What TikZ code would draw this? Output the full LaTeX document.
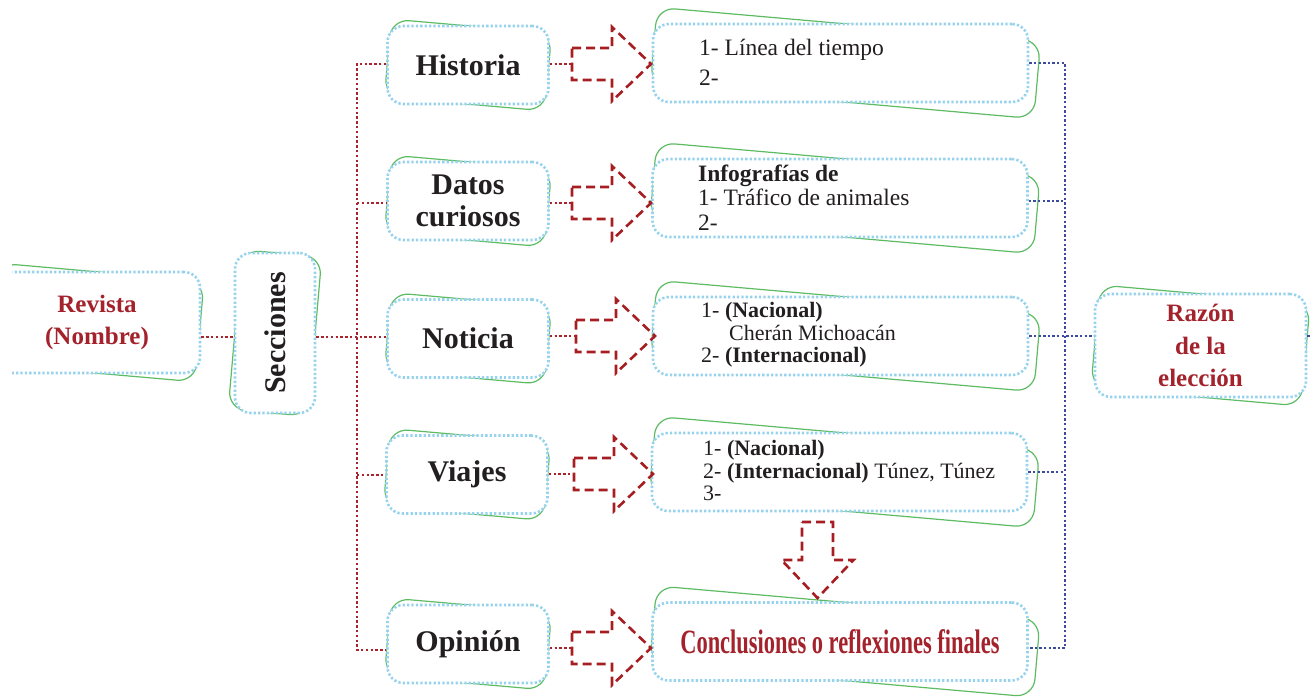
\documentclass[tikz,border=0pt]{standalone}
\usepackage{fontspec}
\setmainfont{Liberation Serif}
\newfontfamily\condfont[FakeStretch=0.66]{Liberation Serif}
\usetikzlibrary{calc}
\definecolor{boxblue}{HTML}{98D3EE}
\definecolor{grn}{HTML}{5DBB63}
\definecolor{ink}{HTML}{231F20}
\definecolor{redtxt}{HTML}{A3222B}
\definecolor{rdot}{HTML}{A8232B}
\definecolor{arrred}{HTML}{A61E22}
\definecolor{navy}{HTML}{3C4BA0}
\tikzset{
 dotbox/.style={draw=boxblue, line width=2.6pt, dash pattern=on 2.3pt off 2.1pt, fill=white, rounded corners=16pt, inner sep=0pt},
 sectxt/.style={font=\fontsize{30}{32}\selectfont\bfseries, text=ink, align=center},
 redtitle/.style={font=\fontsize{25}{32}\selectfont\bfseries, text=redtxt, align=center},
 greenline/.style={draw=grn, line width=1.2pt, rounded corners=18pt},
 reddot/.style={draw=rdot, line width=2.8pt, dash pattern=on 2.4pt off 2.4pt},
 bluedot/.style={draw=navy, line width=2.6pt, dash pattern=on 2.4pt off 2.2pt},
 arrowline/.style={draw=arrred, line width=2.6pt, dash pattern=on 9pt off 5pt, line join=miter},
 listA/.style={anchor=base west, inner sep=0pt, text=ink, font=\fontsize{23.5}{24}\selectfont},
 listB/.style={anchor=base west, inner sep=0pt, text=ink, font=\fontsize{22}{24}\selectfont},
}
% name, x, y, w, h, green width, green dx, style, text
\newcommand\gbox[9]{%
 \begin{scope}[shift={(#2+#7,#3)}, rotate=-5]
  \draw[greenline] (-#6/2,-#5/2) rectangle (#6/2,#5/2);
 \end{scope}
 \node[dotbox,#8, minimum width=#4pt, minimum height=#5pt] (#1) at (#2,#3) {#9};}
\newcommand\rarr[3]{%
 \coordinate (#1) at (#2,#3);
 \draw[arrowline] (#2,#3+16) -- (#2+40,#3+16) -- (#2+40,#3+37) -- (#2+79,#3) -- (#2+40,#3-37) -- (#2+40,#3-16) -- (#2,#3-16) -- cycle;}
\begin{document}
\begin{tikzpicture}[x=1pt,y=1pt]
\useasboundingbox (0,0) rectangle (1311,-697);
% Revista
\begin{scope}
 \clip (12,0) rectangle (1311,-697);
 \gbox{rev}{97}{-322.5}{206}{101}{206}{0}{redtitle}{Revista\\(Nombre)}
\end{scope}
% Secciones
\gbox{sec}{275}{-333}{80}{160}{80}{0}{sectxt}{\rotatebox{90}{Secciones}}
% section boxes
\gbox{s1}{468}{-65}{161}{78}{161}{0}{sectxt}{Historia}
\gbox{s2}{468}{-201}{161}{78}{161}{0}{sectxt}{Datos\\curiosos}
\gbox{s3}{468}{-338.5}{161}{78}{161}{0}{sectxt}{Noticia}
\gbox{s4}{467}{-474.5}{161}{78}{161}{0}{sectxt}{Viajes}
\gbox{s5}{468}{-644}{161}{78}{161}{0}{sectxt}{Opinión}
% list boxes
\gbox{l1}{840.5}{-63}{375}{78}{385}{5}{}{}
\gbox{l2}{840}{-198}{375}{78}{385}{5}{}{}
\gbox{l3}{840.5}{-336}{375}{78}{385}{5}{}{}
\gbox{l4}{839.5}{-472}{375}{78}{385}{5}{}{}
\gbox{l5}{840}{-641.5}{375}{78}{385}{5}{font=\condfont\fontsize{34}{36}\selectfont\bfseries, text=redtxt}{Conclusiones o reflexiones finales}
% Razon
\gbox{raz}{1200.5}{-345.5}{211}{103}{211}{0}{redtitle, font=\fontsize{25}{32.5}\selectfont\bfseries}{Razón\\de la\\elección}
% list texts
\node[listA] (t11) at (699,-55) {1- Línea del tiempo};
\node[listA] (t12) at (699,-85) {2-};
\node[listA] (t21) at (698,-181) {\textbf{Infografías de}};
\node[listA] (t22) at (698,-205) {1- Tráfico de animales};
\node[listA] (t23) at (698,-230) {2-};
\node[listB] (t31) at (701,-317) {1- \textbf{(Nacional)}};
\node[listB] (t32) at (729,-340) {Cherán Michoacán};
\node[listB] (t33) at (701,-362) {2- \textbf{(Internacional)}};
\node[listB] (t41) at (703,-455) {1- \textbf{(Nacional)}};
\node[listB] (t42) at (703,-478) {2- \textbf{(Internacional)} Túnez, Túnez};
\node[listB] (t43) at (703,-500) {3-};
% arrows
\rarr{a1}{572}{-64}
\rarr{a2}{572}{-203}
\rarr{a3}{576}{-336}
\rarr{a4}{574}{-474}
\rarr{a5}{572}{-648}
\draw[arrowline] (802,-522) -- (833,-522) -- (833,-560) -- (853.5,-560) -- (817.5,-598) -- (781.5,-560) -- (802,-560) -- cycle;
% red connectors
\coordinate (rt) at (357,-64);
\coordinate (rb) at (357,-650);
\coordinate (y203) at (0,-203);
\coordinate (y337) at (0,-337);
\coordinate (y475) at (0,-475);
\draw[reddot] (rev.east |- y337) -- (sec.west |- y337);
\draw[reddot] (s1.west |- rt) -- (rt) -- (rb) -- (s5.west |- rb);
\draw[reddot] (rt |- y203) -- (s2.west |- y203);
\draw[reddot] (sec.east |- y337) -- (s3.west |- y337);
\draw[reddot] (rt |- y475) -- (s4.west |- y475);
\draw[reddot] (s1.east |- a1) -- (a1);
\draw[reddot] (s2.east |- a2) -- (a2);
\draw[reddot] (s3.east |- a3) -- (a3);
\draw[reddot] (s4.east |- a4) -- (a4);
\draw[reddot] (s5.east |- a5) -- (a5);
% blue connectors
\coordinate (bt) at (1065,-63);
\coordinate (bb) at (1065,-648);
\coordinate (yb2) at (0,-201);
\coordinate (yb3) at (0,-336);
\coordinate (yb4) at (0,-472);
\coordinate (edge) at (1311,-336);
\draw[bluedot] (l1.east |- bt) -- (bt) -- (bb) -- (l5.east |- bb);
\draw[bluedot] (l2.east |- yb2) -- (bt |- yb2);
\draw[bluedot] (l3.east |- yb3) -- (raz.west |- yb3);
\draw[bluedot] (l4.east |- yb4) -- (bt |- yb4);
\draw[bluedot] (raz.east |- yb3) -- (edge);
\end{tikzpicture}
\end{document}
